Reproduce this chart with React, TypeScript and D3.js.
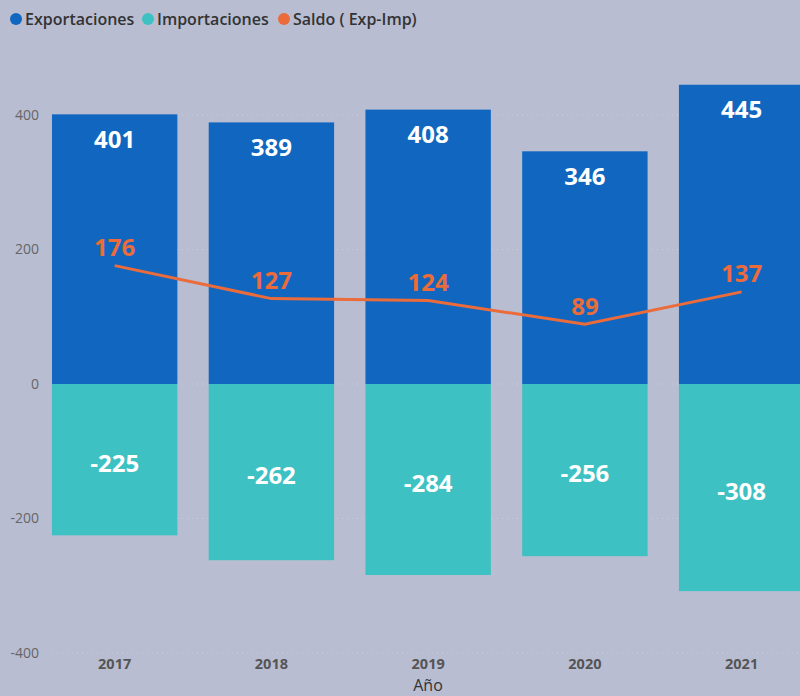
import React from "react";
import * as d3 from "d3";

const years = ["2017", "2018", "2019", "2020", "2021"];
const exportaciones = [401, 389, 408, 346, 445];
const importaciones = [-225, -262, -284, -256, -308];
const saldo = [176, 127, 124, 89, 137];
const yTicks = [-400, -200, 0, 200, 400];
const legendItems = [
  { label: "Exportaciones", color: "#1167C0" },
  { label: "Importaciones", color: "#3DC1C2" },
  { label: "Saldo ( Exp-Imp)", color: "#EB6B3A" },
];

const W = 800;
const H = 696;
const BG = "#B8BDD2";
const FONT = "'Open Sans', 'Noto Sans', sans-serif";

export default function App() {
  const x = d3
    .scaleBand<string>()
    .domain(years)
    .range([36.3, 820])
    .paddingInner(0.2)
    .paddingOuter(0.1);
  const y = d3.scaleLinear().domain([-400, 400]).range([653, 115]);
  const bw = x.bandwidth();
  const cx = (yr: string) => (x(yr) as number) + bw / 2;

  const line = d3
    .line<number>()
    .x((_, i) => cx(years[i]))
    .y((d) => y(d));

  const legendX = [16, 148, 284];

  return (
    <svg
      width={W}
      height={H}
      style={{ position: "absolute", left: 0, top: 0, background: BG }}
      fontFamily={FONT}
    >
      <rect x={0} y={0} width={W} height={H} fill={BG} />
      {/* legend */}
      {legendItems.map((it, i) => (
        <g key={it.label} transform={`translate(${legendX[i]},19)`}>
          <circle cx={0} cy={0} r={6} fill={it.color} />
          <text
            x={9}
            y={0}
            dy="0.35em"
            fontSize={16}
            fontWeight={600}
            fill="#333"
          >
            {it.label}
          </text>
        </g>
      ))}
      {/* grid */}
      {yTicks.map((t) => (
        <line
          key={"g" + t}
          x1={52}
          x2={W}
          y1={y(t)}
          y2={y(t)}
          stroke="#C9CDDF"
          strokeDasharray="1,4"
          strokeWidth={1}
        />
      ))}
      {/* y ticks */}
      {yTicks.map((t) => (
        <text
          key={"t" + t}
          x={39}
          y={y(t)}
          dy="0.35em"
          textAnchor="end"
          fontSize={14}
          fill="#666"
        >
          {t}
        </text>
      ))}
      {/* bars */}
      {years.map((yr, i) => (
        <g key={yr}>
          <rect
            x={x(yr)}
            y={y(exportaciones[i])}
            width={bw}
            height={y(0) - y(exportaciones[i])}
            fill="#1167C0"
          />
          <rect
            x={x(yr)}
            y={y(0)}
            width={bw}
            height={y(importaciones[i]) - y(0)}
            fill="#3DC1C2"
          />
          <text
            x={cx(yr)}
            y={y(exportaciones[i]) + 25}
            dy="0.35em"
            textAnchor="middle"
            fontSize={24}
            fontWeight={700}
            fill="#fff"
          >
            {exportaciones[i]}
          </text>
          <text
            x={cx(yr)}
            y={(y(0) + y(importaciones[i])) / 2 + 4}
            dy="0.35em"
            textAnchor="middle"
            fontSize={24}
            fontWeight={700}
            fill="#fff"
          >
            {importaciones[i]}
          </text>
          <text
            x={cx(yr)}
            y={664}
            dy="0.35em"
            textAnchor="middle"
            fontSize={14.5}
            fontWeight={700}
            fill="#555"
          >
            {yr}
          </text>
        </g>
      ))}
      {/* saldo line */}
      <path
        d={line(saldo) || ""}
        fill="none"
        stroke="#EB6B3A"
        strokeWidth={3}
      />
      {saldo.map((v, i) => (
        <text
          key={"s" + i}
          x={cx(years[i])}
          y={y(v) - 18}
          dy="0.35em"
          textAnchor="middle"
          fontSize={24}
          fontWeight={700}
          fill="#EB6B3A"
        >
          {v}
        </text>
      ))}
      <text
        x={428}
        y={685}
        dy="0.35em"
        textAnchor="middle"
        fontSize={16}
        fill="#333"
      >
        Año
      </text>
    </svg>
  );
}
